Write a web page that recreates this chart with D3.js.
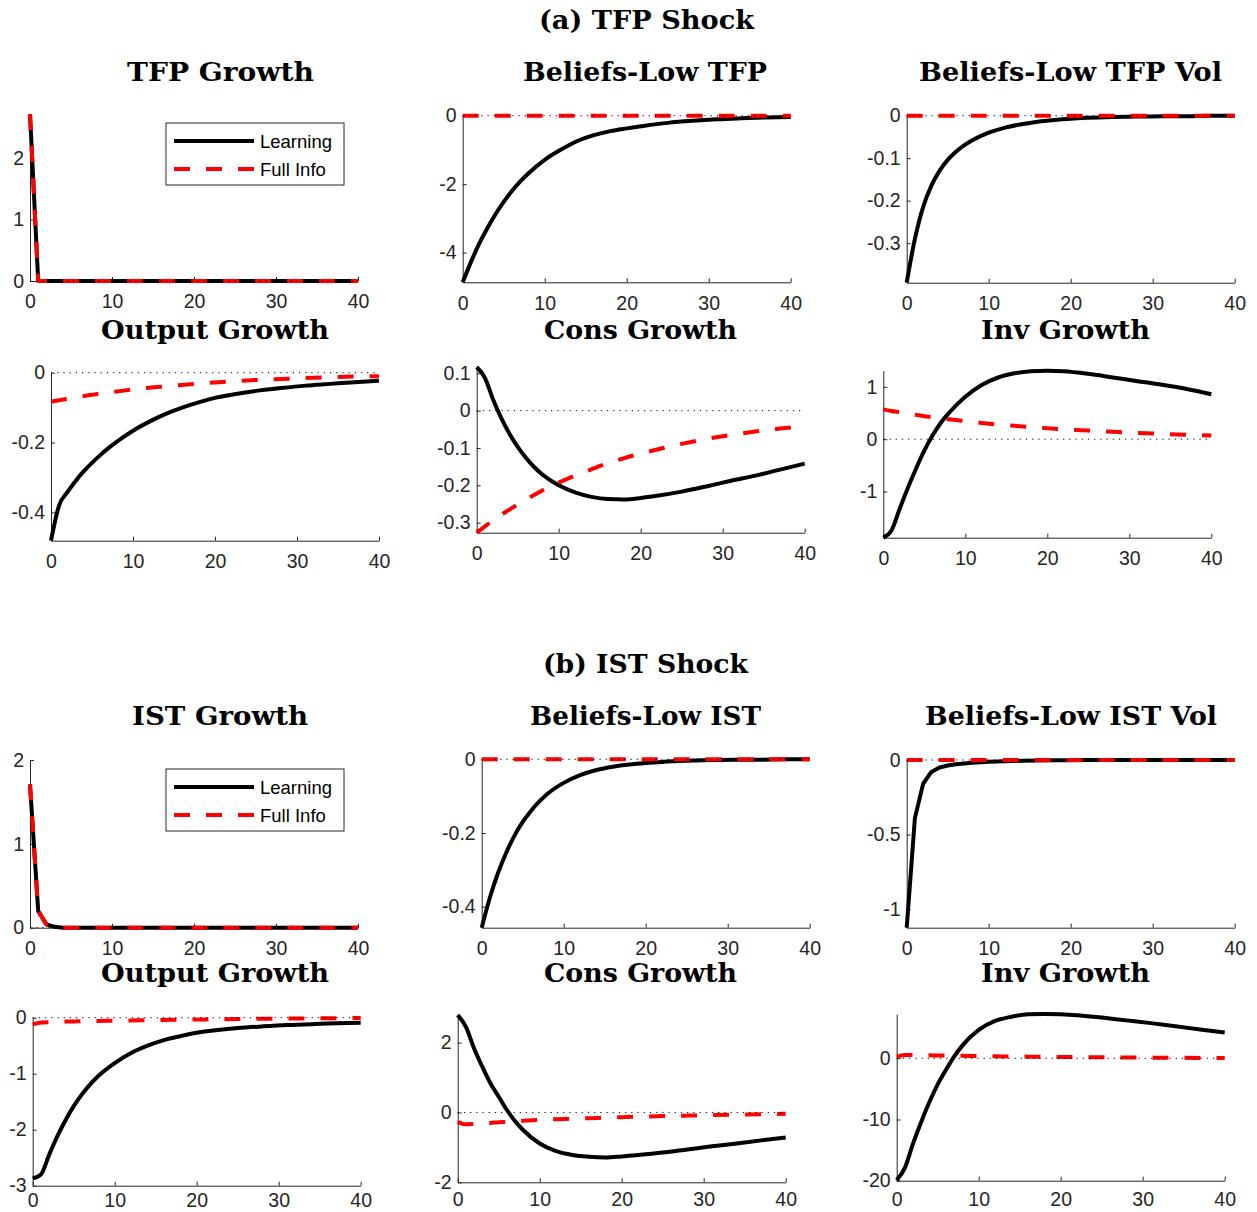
<!DOCTYPE html>
<html>
<head>
<meta charset="utf-8">
<script src="https://cdn.jsdelivr.net/npm/d3@7"></script>
<style>
	body { margin: 0; background: #fff; }
</style>
</head>
<body>
<div id="chart"></div>
<script>
// horizon (quarters) and impulse responses
var horizon = [0,1,2,3,4,5,6,7,8,10,12,14,16,18,20,22,25,28,31,34,37,40];
var xTicks = [0,10,20,30,40];

var sectionTitles = ["(a) TFP Shock", "(b) IST Shock"];
var panelTitles = ["TFP Growth", "Beliefs-Low TFP", "Beliefs-Low TFP Vol", "Output Growth", "Cons Growth", "Inv Growth",
	"IST Growth", "Beliefs-Low IST", "Beliefs-Low IST Vol", "Output Growth", "Cons Growth", "Inv Growth"];
var seriesNames = ["Learning", "Full Info"];

// (a) TFP shock
var tfpGrowthLearn = [2.72,0,0,0,0,0,0,0,0,0,0,0,0,0,0,0,0,0,0,0,0,0];
var tfpGrowthFull  = [2.72,0,0,0,0,0,0,0,0,0,0,0,0,0,0,0,0,0,0,0,0,0];
var beliefTfpLearn = [-4.87,-4.28,-3.75,-3.29,-2.88,-2.52,-2.20,-1.93,-1.69,-1.29,-0.99,-0.74,-0.57,-0.45,-0.37,-0.3,-0.21,-0.15,-0.105,-0.075,-0.05,-0.035];
var beliefTfpFull  = [0,0,0,0,0,0,0,0,0,0,0,0,0,0,0,0,0,0,0,0,0,0];
var volTfpLearn    = [-0.393,-0.29,-0.215,-0.165,-0.13,-0.104,-0.085,-0.07,-0.058,-0.04,-0.028,-0.02,-0.014,-0.01,-0.007,-0.005,-0.003,-0.002,-0.001,-0.001,0,0];
var volTfpFull     = [0,0,0,0,0,0,0,0,0,0,0,0,0,0,0,0,0,0,0,0,0,0];
var outTfpLearn    = [-0.481,-0.379,-0.342,-0.31,-0.282,-0.258,-0.236,-0.216,-0.198,-0.166,-0.14,-0.118,-0.1,-0.085,-0.072,-0.063,-0.052,-0.044,-0.037,-0.032,-0.027,-0.023];
var outTfpFull     = [-0.083,-0.079,-0.075,-0.071,-0.067,-0.063,-0.060,-0.057,-0.054,-0.048,-0.043,-0.039,-0.035,-0.031,-0.028,-0.025,-0.021,-0.018,-0.015,-0.013,-0.011,-0.010];
var consTfpLearn   = [0.117,0.088,0.03,-0.02,-0.062,-0.097,-0.126,-0.151,-0.171,-0.2,-0.219,-0.231,-0.237,-0.238,-0.234,-0.228,-0.217,-0.203,-0.188,-0.174,-0.158,-0.142];
var consTfpFull    = [-0.327,-0.31,-0.294,-0.279,-0.265,-0.251,-0.238,-0.226,-0.214,-0.193,-0.174,-0.157,-0.141,-0.127,-0.115,-0.104,-0.089,-0.076,-0.065,-0.056,-0.048,-0.041];
var invTfpLearn    = [-1.885,-1.745,-1.33,-0.93,-0.56,-0.22,0.07,0.31,0.5,0.81,1.035,1.18,1.26,1.30,1.31,1.30,1.25,1.18,1.11,1.04,0.96,0.86];
var invTfpFull     = [0.57,0.54,0.515,0.49,0.465,0.44,0.42,0.40,0.38,0.345,0.31,0.28,0.255,0.23,0.21,0.19,0.165,0.14,0.12,0.1,0.085,0.07];

// (b) IST shock
var istGrowthLearn = [1.71,0.2,0.04,0.01,0,0,0,0,0,0,0,0,0,0,0,0,0,0,0,0,0,0];
var istGrowthFull  = [1.71,0.2,0.04,0.01,0,0,0,0,0,0,0,0,0,0,0,0,0,0,0,0,0,0];
var beliefIstLearn = [-0.457,-0.375,-0.308,-0.253,-0.207,-0.170,-0.140,-0.115,-0.094,-0.064,-0.043,-0.029,-0.020,-0.014,-0.010,-0.007,-0.004,-0.002,-0.001,-0.001,0,0];
var beliefIstFull  = [0,0,0,0,0,0,0,0,0,0,0,0,0,0,0,0,0,0,0,0,0,0];
var volIstLearn    = [-1.125,-0.39,-0.16,-0.08,-0.05,-0.037,-0.029,-0.023,-0.018,-0.012,-0.008,-0.005,-0.003,-0.002,-0.001,0,0,0,0,0,0,0];
var volIstFull     = [0,0,0,0,0,0,0,0,0,0,0,0,0,0,0,0,0,0,0,0,0,0];
var outIstLearn    = [-2.87,-2.80,-2.45,-2.12,-1.83,-1.58,-1.37,-1.19,-1.04,-0.81,-0.63,-0.5,-0.4,-0.33,-0.27,-0.23,-0.185,-0.155,-0.13,-0.115,-0.1,-0.09];
var outIstFull     = [-0.12,-0.085,-0.078,-0.074,-0.07,-0.067,-0.064,-0.061,-0.058,-0.053,-0.048,-0.044,-0.04,-0.036,-0.032,-0.029,-0.024,-0.02,-0.016,-0.012,-0.009,-0.006];
var consIstLearn   = [2.79,2.45,1.83,1.31,0.83,0.45,0.07,-0.25,-0.51,-0.89,-1.11,-1.22,-1.27,-1.29,-1.26,-1.22,-1.15,-1.06,-0.97,-0.89,-0.8,-0.72];
var consIstFull    = [-0.27,-0.34,-0.33,-0.315,-0.3,-0.28,-0.27,-0.255,-0.24,-0.215,-0.195,-0.18,-0.165,-0.15,-0.135,-0.122,-0.105,-0.09,-0.075,-0.062,-0.05,-0.04];
var invIstLearn    = [-19.9,-17.9,-13.9,-10.35,-7.1,-4.25,-1.9,0.27,2.07,4.63,6.1,6.8,7.2,7.25,7.2,7.05,6.65,6.2,5.75,5.25,4.7,4.2];
var invIstFull     = [0.27,0.55,0.52,0.5,0.48,0.46,0.44,0.42,0.4,0.36,0.33,0.3,0.27,0.24,0.21,0.19,0.16,0.13,0.11,0.09,0.07,0.05];

// y ranges and ticks for each panel
var yDomains = [[0,2.72],[-4.87,0],[-0.393,0],[-0.481,0],[-0.327,0.117],[-1.885,1.31],
	[0,2],[-0.457,0],[-1.125,0],[-3,0],[-2,2.79],[-20,7.24]];
var yTicks = [[0,1,2],[-4,-2,0],[-0.3,-0.2,-0.1,0],[-0.4,-0.2,0],[-0.3,-0.2,-0.1,0,0.1],[-1,0,1],
	[0,1,2],[-0.4,-0.2,0],[-1,-0.5,0],[-3,-2,-1,0],[-2,0,2],[-20,-10,0]];

var learnSeries = [tfpGrowthLearn, beliefTfpLearn, volTfpLearn, outTfpLearn, consTfpLearn, invTfpLearn,
	istGrowthLearn, beliefIstLearn, volIstLearn, outIstLearn, consIstLearn, invIstLearn];
var fullSeries = [tfpGrowthFull, beliefTfpFull, volTfpFull, outTfpFull, consTfpFull, invTfpFull,
	istGrowthFull, beliefIstFull, volIstFull, outIstFull, consIstFull, invIstFull];

// layout: axes box of each panel (left, top, bottom) and title placement
var layout = [
	{left: 30,    top: 114,   bottom: 281,    tx: 220.5, ty: 81,  tw: 187, linear: true, legend: true},
	{left: 462.7, top: 115.7, bottom: 282.3,  tx: 645,   ty: 81,  tw: 244},
	{left: 906.7, top: 115.7, bottom: 282.7,  tx: 1070.5,ty: 81,  tw: 303},
	{left: 51,    top: 372.7, bottom: 540.7,  tx: 215,   ty: 339, tw: 228},
	{left: 476.7, top: 367,   bottom: 532.7,  tx: 640.5, ty: 339, tw: 193},
	{left: 883.3, top: 370.7, bottom: 537.7,  tx: 1065.5,ty: 339, tw: 169},
	{left: 30,    top: 760,   bottom: 927.7,  tx: 220,   ty: 725, tw: 176, linear: true, legend: true},
	{left: 481.7, top: 759.3, bottom: 927.7,  tx: 645.5, ty: 725, tw: 231},
	{left: 906.7, top: 760,   bottom: 927.7,  tx: 1071,  ty: 725, tw: 292, linear: true},
	{left: 32.7,  top: 1017.7,bottom: 1185.7, tx: 215,   ty: 982, tw: 228, pad: 7.5},
	{left: 457.7, top: 1015,  bottom: 1182.3, tx: 640.5, ty: 982, tw: 193, pad: 10},
	{left: 896.7, top: 1014,  bottom: 1180.7, tx: 1065.5,ty: 982, tw: 169, pad: 11}
];
var sectionLayout = [{tx: 646.5, ty: 29, tw: 215}, {tx: 645.5, ty: 673, tw: 205}];

var plotWidth = 328;
var axisColor = "#262626";
var tickFont = '"Liberation Sans", Arial, Helvetica, sans-serif';
var titleFont = '"DejaVu Serif", "Liberation Serif", serif';

var svg = d3.select("#chart").append("svg")
	.attr("width", 1257)
	.attr("height", 1212);

function addTitle(text, tx, ty, tw) {
	svg.append("text")
		.attr("x", tx).attr("y", ty)
		.attr("text-anchor", "middle")
		.attr("textLength", tw)
		.attr("lengthAdjust", "spacingAndGlyphs")
		.style("font-family", titleFont)
		.style("font-weight", "bold")
		.style("font-size", "26px")
		.style("fill", "#000")
		.text(text);
}

sectionTitles.forEach(function(t, i){
	addTitle(t, sectionLayout[i].tx, sectionLayout[i].ty, sectionLayout[i].tw);
});

function styleAxis(g) {
	g.attr("font-size", null).attr("font-family", null);
	g.select(".domain").attr("stroke", axisColor).attr("stroke-width", 1);
	g.selectAll(".tick line").attr("stroke", axisColor).attr("stroke-width", 1);
	g.selectAll(".tick text")
		.style("font-family", tickFont)
		.style("font-size", "19.5px")
		.style("fill", axisColor);
}

layout.forEach(function(p, i){
	var x = d3.scaleLinear().domain([0, 40]).range([p.left, p.left + plotWidth]);
	var y = d3.scaleLinear().domain(yDomains[i]).range([p.bottom, p.top]);

	addTitle(panelTitles[i], p.tx, p.ty, p.tw);

	var panel = svg.append("g").attr("class", "panel");

	panel.append("g")
		.attr("transform", "translate(0," + p.bottom + ")")
		.call(d3.axisBottom(x).tickValues(xTicks).tickSizeInner(-4).tickSizeOuter(0).tickPadding(p.pad || 13.5)
			.tickFormat(function(d){ return String(d); }))
		.call(styleAxis);

	panel.append("g")
		.attr("transform", "translate(" + p.left + ",0)")
		.call(d3.axisLeft(y).tickValues(yTicks[i]).tickSizeInner(-4).tickSizeOuter(0).tickPadding(6)
			.tickFormat(function(d){ return String(d); }))
		.call(styleAxis);

	var line = d3.line()
		.x(function(d, j){ return x(horizon[j]); })
		.y(function(d){ return y(d); })
		.curve(p.linear ? d3.curveLinear : d3.curveMonotoneX);

	panel.append("path")
		.datum(learnSeries[i])
		.attr("d", line)
		.attr("fill", "none")
		.attr("stroke", "#000")
		.attr("stroke-width", 4)
		.attr("stroke-linejoin", "round");

	panel.append("path")
		.datum(fullSeries[i])
		.attr("d", line)
		.attr("fill", "none")
		.attr("stroke", "#ff0000")
		.attr("stroke-width", 4)
		.attr("stroke-dasharray", "16,16")
		.attr("stroke-linejoin", "round");

	// dotted zero line
	panel.append("path")
		.datum([0, 0])
		.attr("d", d3.line().x(function(d, j){ return x(j * 40); }).y(function(d){ return y(d); }))
		.attr("fill", "none")
		.attr("stroke", "#000")
		.attr("stroke-width", 1)
		.attr("stroke-dasharray", "1.2,5");

	if (p.legend) {
		var lg = panel.append("g").attr("class", "legend")
			.attr("transform", "translate(166," + (p.top + 9) + ")");
		lg.append("rect")
			.attr("width", 178).attr("height", 62)
			.attr("fill", "#fff")
			.attr("stroke", axisColor)
			.attr("stroke-width", 1);
		seriesNames.forEach(function(name, k){
			var ly = 18 + k * 28;
			lg.append("line")
				.attr("x1", 8).attr("x2", 88)
				.attr("y1", ly).attr("y2", ly)
				.attr("stroke", k == 0 ? "#000" : "#ff0000")
				.attr("stroke-width", 4)
				.attr("stroke-dasharray", k == 0 ? null : "16,16");
			lg.append("text")
				.attr("x", 94).attr("y", ly + 6.5)
				.style("font-family", tickFont)
				.style("font-size", "18.5px")
				.style("fill", "#000")
				.text(name);
		});
	}
});
</script>
</body>
</html>
